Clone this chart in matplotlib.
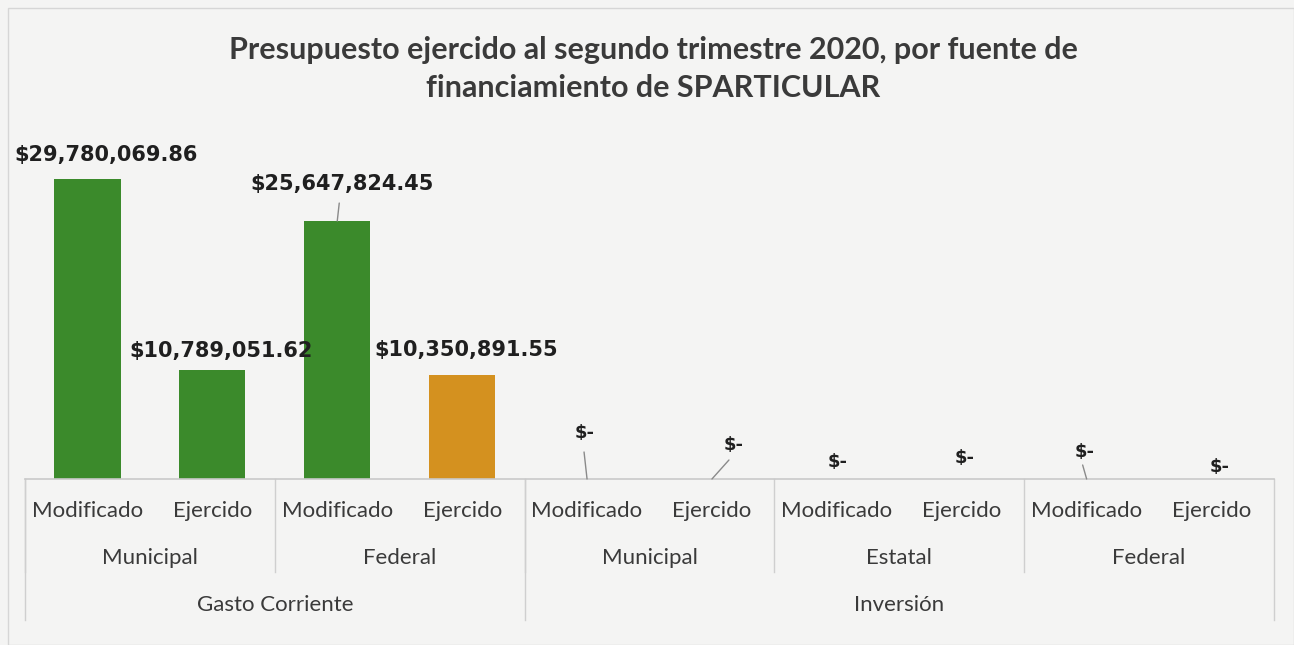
import matplotlib.pyplot as plt
from matplotlib.transforms import blended_transform_factory
from matplotlib.patches import Rectangle

# data
programas = ["Gasto Corriente", "Inversión"]
fuentes = ["Municipal", "Federal", "Municipal", "Estatal", "Federal"]
fuentes_por_programa = [2, 3]
momentos = ["Modificado", "Ejercido"]
valores = [29780069.86, 10789051.62, 25647824.45, 10350891.55, 0, 0, 0, 0, 0, 0]
colores = ["#3b8a2b", "#3b8a2b", "#3b8a2b", "#d4911f",
           "#3b8a2b", "#3b8a2b", "#3b8a2b", "#3b8a2b", "#3b8a2b", "#3b8a2b"]

# label centre offsets in pixels from bar top (dx, dy)
label_offsets = [(19, 24), (9, 19), (5, 37), (4, 25),
                 (-2, 46), (22, 34), (1, 17), (3, 21), (-2, 27), (8, 12)]
# leader lines in pixels from bar top: (x0, y0, x1, y1)
leaders = {2: (2, 0, 2, 18), 4: (-2, 0, -3, 27), 5: (7, 0, 17, 19), 8: (0, 0, -4, 14)}


def fmt(v):
    return "$-" if v == 0 else "${:,.2f}".format(v)


W, H = 1294, 645
PT = 0.72  # points per pixel at dpi 100
fig = plt.figure(figsize=(W / 100, H / 100), dpi=100, facecolor="#f4f4f3")
ax = fig.add_axes([25 / W, 1 - 479 / H, 1249 / W, 352 / H])
ax.set_facecolor("none")

x = list(range(len(valores)))
ax.bar(x, valores, width=0.53, color=colores, zorder=2)
ax.set_xlim(-0.5, len(valores) - 0.5)
ax.set_ylim(0, 35e6)
ax.set_xticks([])
ax.set_yticks([])
for s in ["top", "left", "right"]:
    ax.spines[s].set_visible(False)
ax.spines["bottom"].set_color("#c9c9c9")
ax.spines["bottom"].set_linewidth(1.2)

# data labels
for i, v in enumerate(valores):
    dx, dy = label_offsets[i]
    size = 15 if v else 13
    ax.annotate(fmt(v), (i, v), xytext=(dx * PT, dy * PT), textcoords="offset points",
                ha="center", va="center", fontsize=size, fontweight="bold",
                family="DejaVu Sans", color="#1f1f1f", zorder=3)
    if i in leaders:
        x0, y0, x1, y1 = leaders[i]
        ax.annotate("", (i, v), xytext=(x1 * PT, y1 * PT), textcoords="offset points",
                    arrowprops=dict(arrowstyle="-", color="#8a8a8a", lw=1,
                                    shrinkA=0, shrinkB=0, relpos=(0.5, 0.5)))

# multi-level category axis
tr = blended_transform_factory(ax.transData, fig.transFigure)
y_l1, y_l2, y_l3 = 1 - 511 / H, 1 - 558 / H, 1 - 605 / H
y_sep2, y_sep3 = 1 - 572 / H, 1 - 620 / H
y_axis = 1 - 479 / H
tick_kw = dict(transform=tr, ha="center", va="center", fontsize=16, family="Lato", color="#3a3a3a")
line_kw = dict(transform=tr, color="#cfcfcf", lw=1, clip_on=False)

for i in x:
    ax.text(i, y_l1, momentos[i % 2], **tick_kw)

for j, f in enumerate(fuentes):
    ax.text(2 * j + 0.5, y_l2, f, **tick_kw)
    ax.plot([2 * j - 0.5, 2 * j - 0.5], [y_axis, y_sep2], **line_kw)

start = 0
for k, p in enumerate(programas):
    n = fuentes_por_programa[k] * 2
    ax.text(start + (n - 1) / 2, y_l3, p, **tick_kw)
    ax.plot([start - 0.5, start - 0.5], [y_axis, y_sep3], **line_kw)
    start += n
ax.plot([start - 0.5, start - 0.5], [y_axis, y_sep3], **line_kw)

# title
title_kw = dict(ha="center", va="center", fontsize=22, fontweight="bold", family="Lato", color="#3a3a3a")
fig.text(653 / W, 1 - 50 / H, "Presupuesto ejercido al segundo trimestre 2020, por fuente de", **title_kw)
fig.text(653 / W, 1 - 88 / H, "financiamiento de SPARTICULAR", **title_kw)

# chart border
fig.patches.append(Rectangle((8 / W, 0), 1 - 8 / W, 1 - 8 / H, transform=fig.transFigure,
                             fill=False, edgecolor="#d6d6d6", lw=1))

fig.savefig("out.png", dpi=100, facecolor=fig.get_facecolor())
